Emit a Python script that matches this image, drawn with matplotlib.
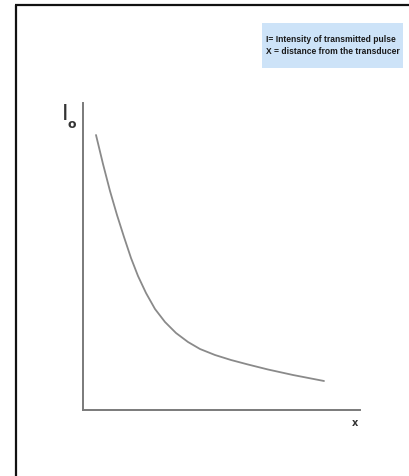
import matplotlib
matplotlib.use("Agg")
import matplotlib.pyplot as plt
from matplotlib.lines import Line2D
from matplotlib.patches import Rectangle

# Curve data (distance, intensity), in axis units
distance = [13, 20, 27, 34, 41, 48, 55, 63, 72, 82, 93, 105, 117, 132, 148, 165, 185, 210, 241]
intensity = [275, 246, 219, 195, 173, 152, 134, 117, 101, 88, 77, 68, 61, 55, 50, 45.5, 40.5, 35, 29]
legend_lines = ["I= Intensity of transmitted pulse", "X = distance from the transducer"]
y_label_main = "I"
y_label_sub = "o"
x_label = "x"

W, H = 410, 476
fig = plt.figure(figsize=(W / 100, H / 100), dpi=100)
fig.patch.set_facecolor("white")

def fx(px):
    return px / W

def fy(py):
    return 1 - py / H

# outer frame (left and top edges visible)
fig.add_artist(Line2D([fx(16), fx(16)], [fy(4.5), 0], color="#111111", lw=1.6,
                      transform=fig.transFigure, solid_capstyle="butt"))
fig.add_artist(Line2D([fx(15.2), 1], [fy(5.2), fy(5.2)], color="#111111", lw=1.6,
                      transform=fig.transFigure, solid_capstyle="butt"))

# legend box
fig.add_artist(Rectangle((fx(262), fy(68)), fx(403) - fx(262), fy(23) - fy(68),
                         transform=fig.transFigure, facecolor="#cde3f8", edgecolor="none"))
tkw = dict(fontsize=7, fontweight="bold", family=["Liberation Sans", "DejaVu Sans"])
t1 = fig.text(fx(266), fy(40), legend_lines[0], color="#1a1a1a", va="center", ha="left", **tkw)
t2 = fig.text(fx(266), fy(52), legend_lines[1], color="#1a1a1a", va="center", ha="left", **tkw)

# scale legend text to fit the box width
fig.canvas.draw()
r = fig.canvas.get_renderer()
wmax = max(t1.get_window_extent(r).width, t2.get_window_extent(r).width)
target = 399 - 266
if wmax > 0:
    fs = t1.get_fontsize() * target / wmax
    t1.set_fontsize(fs)
    t2.set_fontsize(fs)

# axes
ax_left, ax_right, ax_top, ax_bottom = 83, 360, 103, 410
ax = fig.add_axes([fx(ax_left), fy(ax_bottom), fx(ax_right) - fx(ax_left), fy(ax_top) - fy(ax_bottom)])
ax.set_xlim(0, ax_right - ax_left)
ax.set_ylim(0, ax_bottom - ax_top)
for s in ["top", "right"]:
    ax.spines[s].set_visible(False)
for s in ["left", "bottom"]:
    ax.spines[s].set_color("#7a7a7a")
    ax.spines[s].set_linewidth(1.4)
ax.set_xticks([])
ax.set_yticks([])
ax.patch.set_alpha(0)

ax.plot(distance, intensity, color="#8a8a8a", lw=1.3, solid_capstyle="round", solid_joinstyle="round")

fig.text(fx(62), fy(114), y_label_main, fontsize=16, color="#333333", va="center", ha="left")
fig.text(fx(68), fy(125), y_label_sub, fontsize=9, fontweight="bold", color="#333333", va="center", ha="left")
fig.text(fx(355), fy(423), x_label, fontsize=7, fontweight="bold", color="#333333", va="center", ha="center")

fig.savefig("out.png", dpi=100)
